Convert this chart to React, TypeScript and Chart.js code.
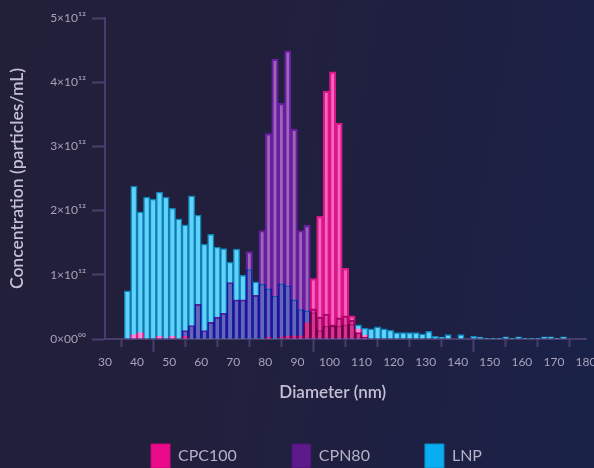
import React, { useEffect, useRef } from "react";
import { Chart, registerables } from "chart.js";

Chart.register(...registerables);

// Bin centres (nm), 2 nm wide bins
const diameters = [
  37, 39, 41, 43, 45, 47, 49, 51, 53, 55,
  57, 59, 61, 63, 65, 67, 69, 71, 73, 75,
  77, 79, 81, 83, 85, 87, 89, 91, 93, 95,
  97, 99, 101, 103, 105, 107, 109, 111, 113, 115,
  117, 119, 121, 123, 125, 127, 129, 131, 133, 135,
  137, 139, 141, 143, 145, 147, 149, 151, 153, 155,
  157, 159, 161, 163, 165, 167, 169, 171, 173, 175,
];

// Concentrations in units of 10^12 particles/mL
const cpc100 = [
  0, 0.07, 0.1, 0, 0, 0.04, 0, 0.04, 0, 0.04,
  0, 0, 0, 0, 0, 0, 0, 0, 0, 0,
  0, 0, 0.03, 0, 0.03, 0.04, 0.05, 0.05, 0.25, 0.94,
  1.91, 3.86, 4.16, 3.36, 1.1, 0.36, 0.16, 0.06, 0, 0,
  0, 0, 0, 0, 0, 0, 0, 0, 0, 0,
  0, 0, 0, 0, 0, 0, 0, 0, 0, 0,
  0, 0, 0, 0, 0, 0, 0, 0, 0, 0,
];

const cpn80 = [
  0, 0, 0, 0, 0, 0, 0, 0, 0, 0.13,
  0.21, 0.54, 0.13, 0.26, 0.34, 0.4, 0.88, 0.61, 0.61, 1.36,
  0.68, 1.69, 3.2, 4.36, 3.67, 4.49, 3.27, 1.69, 1.77, 0.47,
  0.34, 0.39, 0.22, 0.33, 0.36, 0.29, 0.1, 0.03, 0, 0,
  0, 0, 0, 0, 0, 0, 0, 0, 0, 0,
  0, 0, 0, 0, 0, 0, 0, 0, 0, 0,
  0, 0, 0, 0, 0, 0, 0, 0, 0, 0,
];

const lnp = [
  0.75, 2.38, 1.98, 2.21, 2.18, 2.29, 2.21, 2.04, 1.87, 1.78,
  2.23, 1.93, 1.48, 1.63, 1.43, 1.41, 1.2, 1.4, 0.99, 1.08,
  0.89, 0.85, 0.78, 0.67, 0.86, 0.83, 0.61, 0.46, 0.44, 0.41,
  0.13, 0.2, 0.2, 0.2, 0.22, 0.23, 0.22, 0.17, 0.16, 0.19,
  0.16, 0.14, 0.1, 0.1, 0.1, 0.1, 0.08, 0.12, 0.04, 0.03,
  0.07, 0, 0.07, 0, 0.04, 0.03, 0.005, 0.01, 0.01, 0.035,
  0.01, 0.035, 0.01, 0.01, 0.01, 0.035, 0.035, 0.01, 0.035, 0,
];

const seriesNames = ["CPC100", "CPN80", "LNP"];
const xTickValues = [30, 40, 50, 60, 70, 80, 90, 100, 110, 120, 130, 140, 150, 160, 170, 180];
const xTickLabels = ["30", "40", "50", "60", "70", "80", "90", "100", "110", "120", "130", "140", "150", "160", "170", "180"];
const xMajorTicks = [50, 100, 150];
const yTickLabels = ["0×00⁰⁰", "1×10¹²", "2×10¹²", "3×10¹²", "4×10¹²", "5×10¹²"];

const barFill = ["#ff5fbf", "#9c68b6", "#62d2fb"];
const barBorder = ["#e2148c", "#6a1ca2", "#0d82b6"];
const legendFill = ["#ec0a8c", "#5d1a8a", "#08adf2"];
const legendStroke = ["#c8087a", "#4a1272", "#0a8dcc"];

const W = 633;
const H = 478;
const AXIS = "#4a3c6c";
const FONT = "Lato, 'Noto Sans', sans-serif";

const blendPlugin = {
  id: "blendBars",
  beforeDatasetDraw(chart: any, args: any) {
    const ctx = chart.ctx;
    if (args.index === 1) ctx.globalCompositeOperation = "darken";
    else if (args.index === 0) ctx.globalCompositeOperation = "color";
    else ctx.globalCompositeOperation = "source-over";
  },
  afterDatasetDraw(chart: any) {
    chart.ctx.globalCompositeOperation = "source-over";
  },
};

export default function App() {
  const ref = useRef<HTMLCanvasElement | null>(null);

  useEffect(() => {
    if (!ref.current) return;
    const series = [cpc100, cpn80, lnp];
    const chart = new Chart(ref.current, {
      type: "bar",
      data: {
        labels: diameters,
        datasets: series.map((d, i) => ({
          label: seriesNames[i],
          data: d,
          backgroundColor: barFill[i],
          borderColor: barBorder[i],
          borderWidth: 1.5,
          barPercentage: 1,
          categoryPercentage: 1,
          grouped: false,
        })),
      },
      plugins: [blendPlugin],
      options: {
        animation: false,
        responsive: false,
        devicePixelRatio: 1,
        layout: { padding: { top: 18, left: 0, right: 0, bottom: 0 } },
        plugins: {
          tooltip: { enabled: false },
          legend: {
            position: "bottom",
            align: "center",
            labels: {
              boxWidth: 19,
              boxHeight: 24,
              padding: 55,
              color: "#b7b1c7",
              font: { family: FONT, size: 16 },
              generateLabels: () =>
                seriesNames.map((t, i) => ({
                  text: t,
                  fillStyle: legendFill[i],
                  strokeStyle: legendStroke[i],
                  lineWidth: 1,
                  hidden: false,
                  datasetIndex: i,
                  fontColor: "#b7b1c7",
                })),
            },
          },
        },
        scales: {
          x: {
            type: "linear",
            min: 30,
            max: 180,
            offset: false,
            grid: {
              display: true,
              drawOnChartArea: false,
              drawTicks: true,
              tickLength: 13,
              tickColor: AXIS,
              tickWidth: 2,
              tickBorderDash: (c: any) =>
                c.tick && xMajorTicks.includes(c.tick.value) ? [] : [7, 30],
            },
            border: { display: true, color: AXIS, width: 2 },
            ticks: {
              stepSize: 10,
              autoSkip: false,
              maxRotation: 0,
              padding: 3,
              color: "#a8a2bb",
              font: { family: FONT, size: 12 },
              callback: (v: any) => {
                const k = xTickValues.indexOf(Number(v));
                return k >= 0 ? xTickLabels[k] : "";
              },
            },
            title: {
              display: true,
              text: "Diameter (nm)\u2003\u2003",
              color: "#c5bfd5",
              font: { family: FONT, size: 17, weight: "600" },
              padding: { top: 0, bottom: -14 },
            },
            afterFit: (s: any) => {
              s.height = 50;
            },
          },
          y: {
            type: "linear",
            min: 0,
            max: 5,
            grid: {
              display: true,
              drawOnChartArea: false,
              drawTicks: true,
              tickLength: 13,
              tickColor: AXIS,
              tickWidth: 2,
            },
            border: { display: true, color: AXIS, width: 2 },
            ticks: {
              stepSize: 1,
              padding: 6,
              color: "#a8a2bb",
              font: { family: FONT, size: 12 },
              callback: (v: any) => yTickLabels[Math.round(Number(v))] ?? "",
            },
            title: {
              display: true,
              text: "Concentration (particles/mL)",
              color: "#c5bfd5",
              font: { family: FONT, size: 17.5, weight: "600" },
              padding: { top: 7, bottom: 0 },
            },
            afterFit: (s: any) => {
              s.width = 105;
            },
          },
          yR: {
            type: "linear",
            position: "right",
            display: true,
            grid: { display: false },
            border: { display: false },
            ticks: { display: false },
            afterFit: (s: any) => {
              s.width = W - 586;
            },
          },
        },
      } as any,
    });
    return () => chart.destroy();
  }, []);

  return (
    <div
      style={{
        position: "fixed",
        left: 0,
        top: 0,
        width: 594,
        height: 468,
        overflow: "hidden",
        background:
          "linear-gradient(100deg, #221f39 0%, #211f3c 40%, #1d2043 75%, #1a2248 100%)",
      }}
    >
      <canvas
        ref={ref}
        width={W}
        height={H}
        style={{ position: "absolute", left: 0, top: 0, width: W, height: H, display: "block" }}
      />
    </div>
  );
}
